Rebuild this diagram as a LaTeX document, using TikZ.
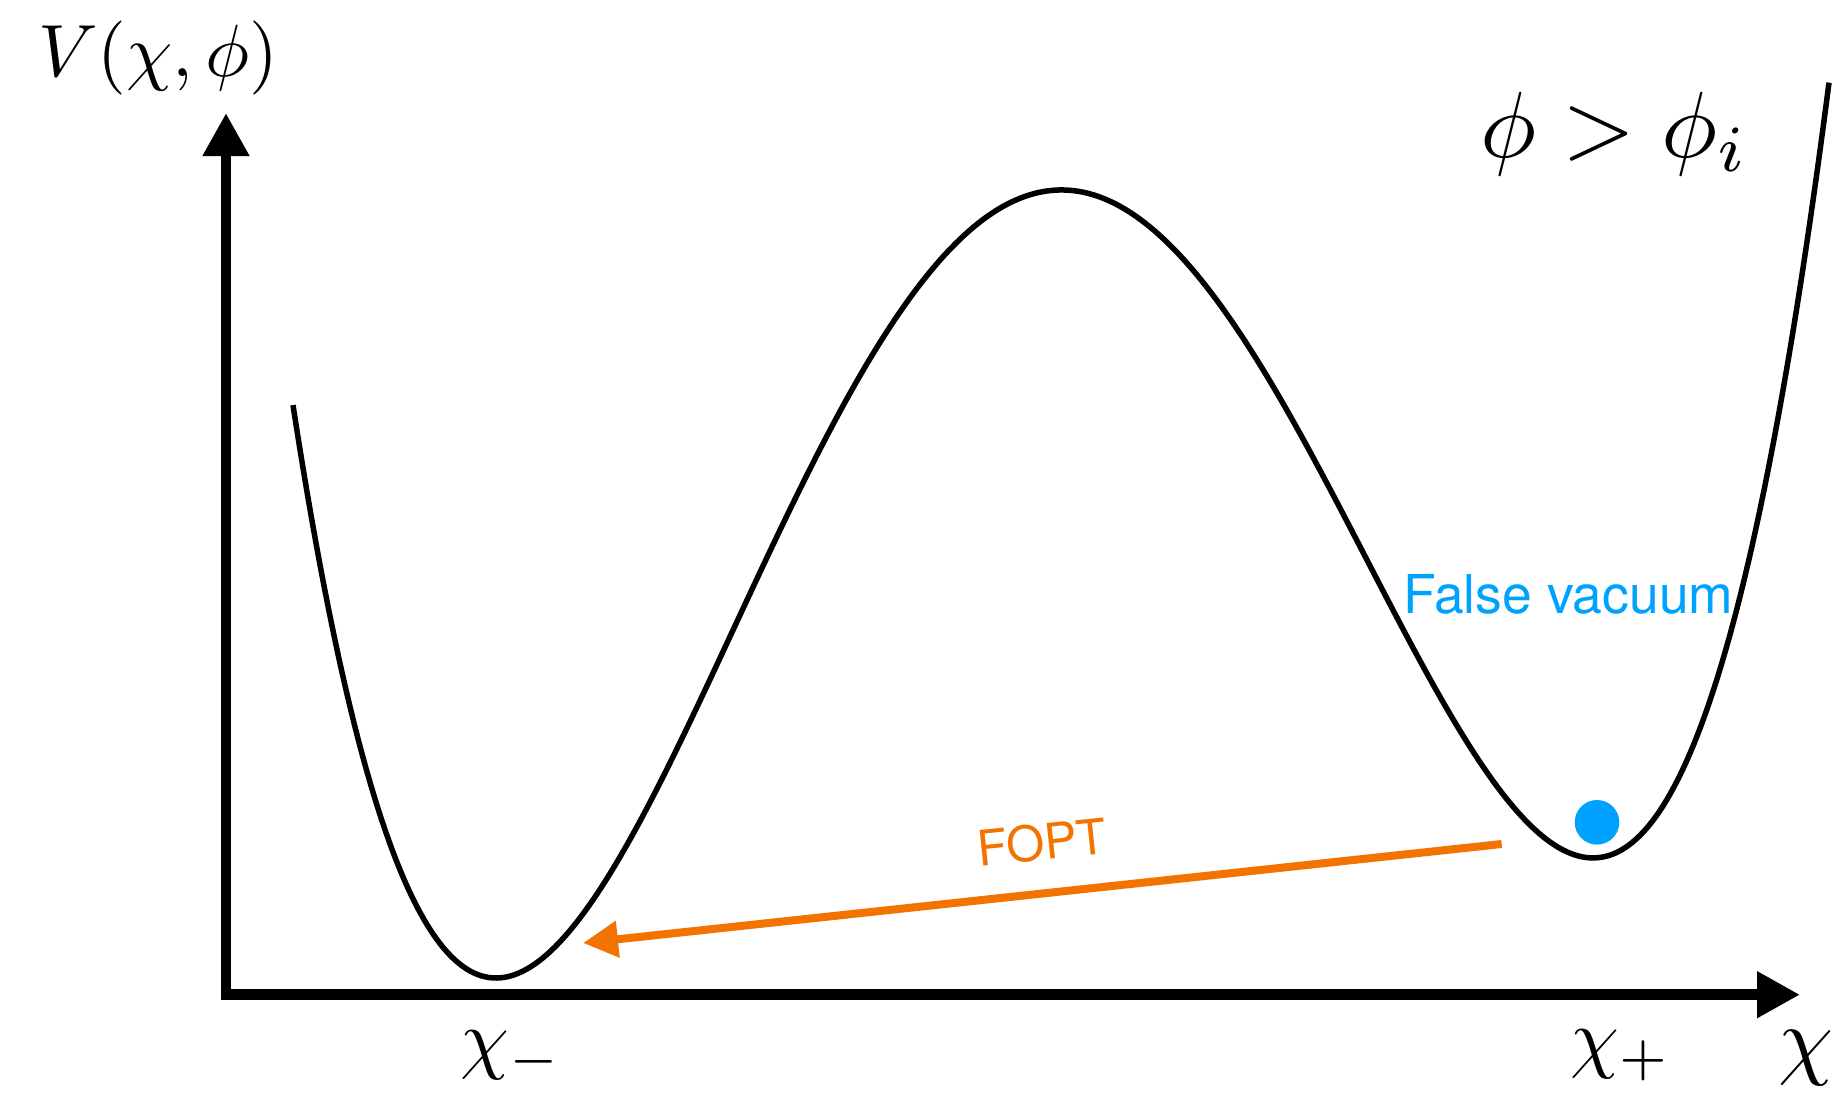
\documentclass[tikz,border=0pt]{standalone}
\usepackage{graphicx}
\usepackage{fontspec}
\newfontfamily\helv{TeX Gyre Heros}
\usetikzlibrary{arrows.meta}
\definecolor{foptorange}{RGB}{242,115,0}
\definecolor{fvblue}{RGB}{0,162,255}
\begin{document}
\begin{tikzpicture}[x=1pt,y=-1pt,
  axisline/.style={line width=10.7pt, -{Triangle[length=43pt,width=44pt]}},
  potential/.style={line width=5.5pt},
  transition/.style={line width=8pt, draw=foptorange, -{Triangle[length=35pt,width=35pt]}},
  mathlbl/.style={inner sep=0pt, anchor=base west},
  declare function={uu(\t)=(\t-496)/100;
    pot(\t)=978-3.211*uu(\t)*uu(\t)*(uu(\t)*uu(\t)/4-5.5417*uu(\t)+31.018);}]
\useasboundingbox (0,0) rectangle (1839,1093);
% axes
\coordinate (ybot) at (226,1000);
\coordinate (ytop) at (226,113);
\coordinate (xleft) at (231,994.7);
\coordinate (xright) at (1800,994.7);
\draw[axisline] (ybot) -- (ytop);
\draw[axisline] (xleft) -- (xright);
% potential
\draw[potential] plot[domain=293:1829, samples=400, variable=\t] (\t, {pot(\t)});
% false vacuum ball
\node (ball) [circle, fill=fvblue, minimum size=44.6pt, inner sep=0pt] at (1597,822.3) {};
% transition arrow
\coordinate (tstart) at (1501.7,844);
\coordinate (ttip) at (583,943);
\draw[transition] (tstart) -- (ttip);
% labels
\node (vlab) [mathlbl] at (38,76) {\scalebox{7.4}{$V(\chi,\phi)$}};
\node (cond) [mathlbl] at (1480,157) {\scalebox{9.4}{$\phi > \phi_i$}};
\node (chim) [mathlbl] at (460,1064) {\scalebox{7.8}{$\chi_-$}};
\node (chip) [mathlbl] at (1570,1063) {\scalebox{7.8}{$\chi_+$}};
\node (chi) [mathlbl] at (1778,1068) {\scalebox{8.8}{$\chi$}};
\node (fvtext) [anchor=base west, inner sep=0pt, text=fvblue, font=\helv\fontsize{53.5}{60}\selectfont] at (1403,613) {False vacuum};
\node (fopttext) [rotate=6, inner sep=0pt, text=foptorange, font=\helv\fontsize{49}{56}\selectfont] at (1042,842) {FOPT};
\end{tikzpicture}
\end{document}
